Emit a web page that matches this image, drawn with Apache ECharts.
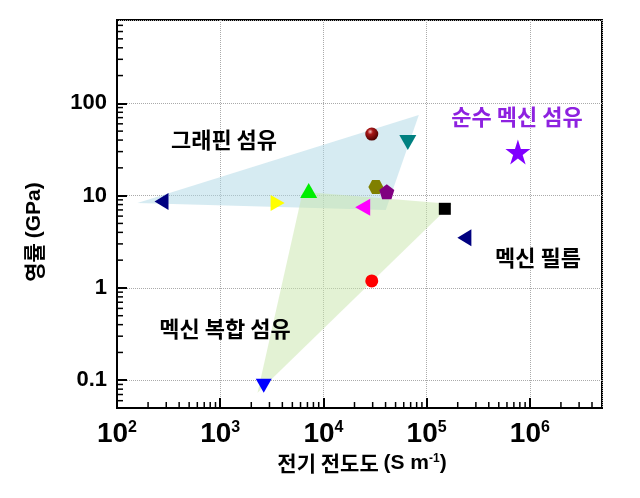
<!DOCTYPE html>
<html><head><meta charset="utf-8">
<script src="https://cdn.jsdelivr.net/npm/echarts@6/dist/echarts.min.js"></script>
<style>html,body{margin:0;padding:0;background:#fff}#c{width:640px;height:498px}</style>
</head><body><div id="c"></div>
<script>
// ---- data ----
const xMin = 100, xMax = 5e6, yMin = 0.05, yMax = 800;
const conductivity = [270, 3600, 7200, 29400, 65700, 766000, 32200, 41100, 24000, 150000, 232000, 29400, 2640];
const modulus      = [8.65, 8.32, 11.4, 46.5, 37.7, 29.7, 12.4, 11.0, 7.5, 7.2, 3.5, 1.19, 0.087];
const grapheneRegionX = [158, 84000, 40200];
const grapheneRegionY = [8.32, 74.8, 7.0];
const compositeRegionX = [6300, 175000, 2300];
const compositeRegionY = [11.0, 8.1, 0.073];
const minorXTicks = [200,300,400,500,600,700,800,900,2000,3000,4000,5000,6000,7000,8000,9000,
  2e4,3e4,4e4,5e4,6e4,7e4,8e4,9e4,2e5,3e5,4e5,5e5,6e5,7e5,8e5,9e5,2e6,3e6,4e6];
const minorYTicks = [0.06,0.07,0.08,0.09,0.2,0.3,0.4,0.5,0.6,0.7,0.8,0.9,2,3,4,5,6,7,8,9,
  20,30,40,50,60,70,80,90,200,300,400,500,600,700];
const xTitle = ['전기 전도도 ', '(S m', '-1', ')'];
const yTitle = ['영률 ', '(GPa)'];
const annotations = ['그래핀 섬유', '순수 멕신 섬유', '멕신 필름', '멕신 복합 섬유'];

// ---- styles ----
const STAR = 'path://M50,0 L61.2,34.5 L97.6,34.5 L68.2,55.9 L79.4,90.5 L50,69.1 L20.6,90.5 L31.8,55.9 L2.4,34.5 L38.8,34.5 Z';
const PENT = 'path://M50,0 L97.6,34.5 L79.4,90.5 L20.6,90.5 L2.4,34.5 Z';
const HEX = 'path://M25,0 L75,0 L100,50 L75,100 L25,100 L0,50 Z';
const sphere = {type:'radial', x:0.38, y:0.32, r:0.7, colorStops:[
  {offset:0, color:'#f4c0c0'}, {offset:0.3, color:'#a81818'}, {offset:1, color:'#4a0000'}]};
const markerStyles = [
  {symbol:'triangle', rotate:90, size:[17,14], color:'#000080'},
  {symbol:'triangle', rotate:-90, size:[16,14], color:'#ffff00'},
  {symbol:'triangle', rotate:0, size:[17,15], color:'#00ee00'},
  {symbol:'circle', rotate:0, size:13, color:sphere},
  {symbol:'triangle', rotate:180, size:[17,15], color:'#008080'},
  {symbol:STAR, rotate:0, size:25, color:'#8000ff'},
  {symbol:HEX, rotate:0, size:[15,14], color:'#808000'},
  {symbol:PENT, rotate:0, size:15, color:'#800080'},
  {symbol:'triangle', rotate:90, size:[17,15], color:'#ff00ff'},
  {symbol:'rect', rotate:0, size:12, color:'#000000'},
  {symbol:'triangle', rotate:90, size:[17,14], color:'#000080'},
  {symbol:'circle', rotate:0, size:13, color:'#ff0000'},
  {symbol:'triangle', rotate:180, size:[16,14], color:'#0000ff'}
];
const KR = "'Noto Sans CJK KR', sans-serif";
const LAT = "'Liberation Sans', Arial, sans-serif";
const NARROW = "'Liberation Sans Narrow', 'Liberation Sans', Arial, sans-serif";

function isPow10(v){ const l = Math.log10(v); return Math.abs(l - Math.round(l)) < 1e-6; }

const chart = echarts.init(document.getElementById('c'), null, {renderer:'canvas'});

function polygonSeries(xs, ys, fill){
  return {type:'custom', coordinateSystem:'cartesian2d', silent:true, z:1,
    data:[[xMin, yMin]],
    renderItem:(p, api) => ({type:'polygon',
      shape:{points: xs.map((x,i) => api.coord([x, ys[i]]))},
      style:{fill: fill}})};
}

const option = {
  animation:false,
  backgroundColor:'#fff',
  grid:{left:117, right:38, top:20, bottom:90, show:true, borderColor:'#000', borderWidth:2,
    backgroundColor:'transparent', outerBoundsMode:'none', containLabel:false},
  xAxis:{type:'log', logBase:10, min:xMin, max:xMax,
    axisLine:{show:true, lineStyle:{color:'#000', width:2}},
    axisTick:{show:true, inside:true, length:10, lineStyle:{color:'#000', width:2}},
    minorTick:{show:false},
    splitLine:{show:true, lineStyle:{color:'#aaa', type:'dotted', width:1}},
    axisLabel:{show:true, margin:12, showMinLabel:true, showMaxLabel:false,
      formatter:v => isPow10(v) ? '{a|10}{b|' + Math.round(Math.log10(v)) + '}' : '',
      rich:{a:{fontFamily:NARROW, fontWeight:'bold', fontSize:28, color:'#000'},
            b:{fontFamily:NARROW, fontWeight:'bold', fontSize:16, color:'#000', verticalAlign:'top'}}}},
  yAxis:{type:'log', logBase:10, min:yMin, max:yMax,
    axisLine:{show:true, lineStyle:{color:'#000', width:2}},
    axisTick:{show:true, inside:true, length:10, lineStyle:{color:'#000', width:2}},
    minorTick:{show:false},
    splitLine:{show:true, lineStyle:{color:'#aaa', type:'dotted', width:1}},
    axisLabel:{show:true, margin:10, showMinLabel:false, showMaxLabel:false,
      fontFamily:LAT, fontWeight:'bold', fontSize:22, color:'#000',
      formatter:v => { if (!isPow10(v)) return ''; const e = Math.round(Math.log10(v)); return e < 0 ? '0.1' : String(Math.pow(10, e)); }}},
  series:[
    polygonSeries(grapheneRegionX, grapheneRegionY, 'rgba(173,216,230,0.5)'),
    polygonSeries(compositeRegionX, compositeRegionY, 'rgba(200,230,170,0.5)'),
    {type:'custom', coordinateSystem:'cartesian2d', silent:true, z:5,
      data: minorXTicks.map(v => [v, yMin]),
      renderItem:(p, api) => { const c = api.coord([api.value(0), yMin]);
        return {type:'line', shape:{x1:c[0], y1:c[1], x2:c[0], y2:c[1]-6}, style:{stroke:'#000', lineWidth:1.5}}; }},
    {type:'custom', coordinateSystem:'cartesian2d', silent:true, z:5,
      data: minorYTicks.map(v => [xMin, v]),
      renderItem:(p, api) => { const c = api.coord([xMin, api.value(1)]);
        return {type:'line', shape:{x1:c[0], y1:c[1], x2:c[0]+6, y2:c[1]}, style:{stroke:'#000', lineWidth:1.5}}; }},
    {type:'scatter', z:3,
      data: conductivity.map((x, i) => ({value:[x, modulus[i]],
        symbol: markerStyles[i].symbol, symbolSize: markerStyles[i].size,
        symbolRotate: markerStyles[i].rotate, itemStyle:{color: markerStyles[i].color, opacity:1}}))}
  ],
  graphic:[
    {type:'text', x:362, y:463, z:10, style:{text:'{k|' + xTitle[0] + '}{e|' + xTitle[1] + '}{s|' + xTitle[2] + '}{e|' + xTitle[3] + '}',
      align:'center', verticalAlign:'middle',
      rich:{k:{fontFamily:KR, fontWeight:'bold', fontSize:21, fill:'#000'},
            e:{fontFamily:LAT, fontWeight:'bold', fontSize:21, fill:'#000'},
            s:{fontFamily:LAT, fontWeight:'bold', fontSize:12, fill:'#000', verticalAlign:'top'}}}},
    {type:'text', x:34, y:232, rotation:Math.PI/2, z:10, style:{text:'{k|' + yTitle[0] + '}{e|' + yTitle[1] + '}',
      align:'center', verticalAlign:'middle',
      rich:{k:{fontFamily:KR, fontWeight:'bold', fontSize:21, fill:'#000'},
            e:{fontFamily:LAT, fontWeight:'bold', fontSize:21, fill:'#000'}}}},
    {type:'text', x:224, y:140, z:10, style:{text:annotations[0], fontFamily:KR, fontWeight:'bold', fontSize:22, fill:'#000', align:'center', verticalAlign:'middle'}},
    {type:'text', x:517, y:117, z:10, style:{text:annotations[1], fontFamily:KR, fontWeight:'bold', fontSize:22, fill:'#8e22e0', align:'center', verticalAlign:'middle'}},
    {type:'text', x:538, y:258, z:10, style:{text:annotations[2], fontFamily:KR, fontWeight:'bold', fontSize:22, fill:'#000', align:'center', verticalAlign:'middle'}},
    {type:'text', x:225, y:329, z:10, style:{text:annotations[3], fontFamily:KR, fontWeight:'bold', fontSize:22, fill:'#000', align:'center', verticalAlign:'middle'}}
  ]
};
chart.setOption(option);
</script></body></html>
